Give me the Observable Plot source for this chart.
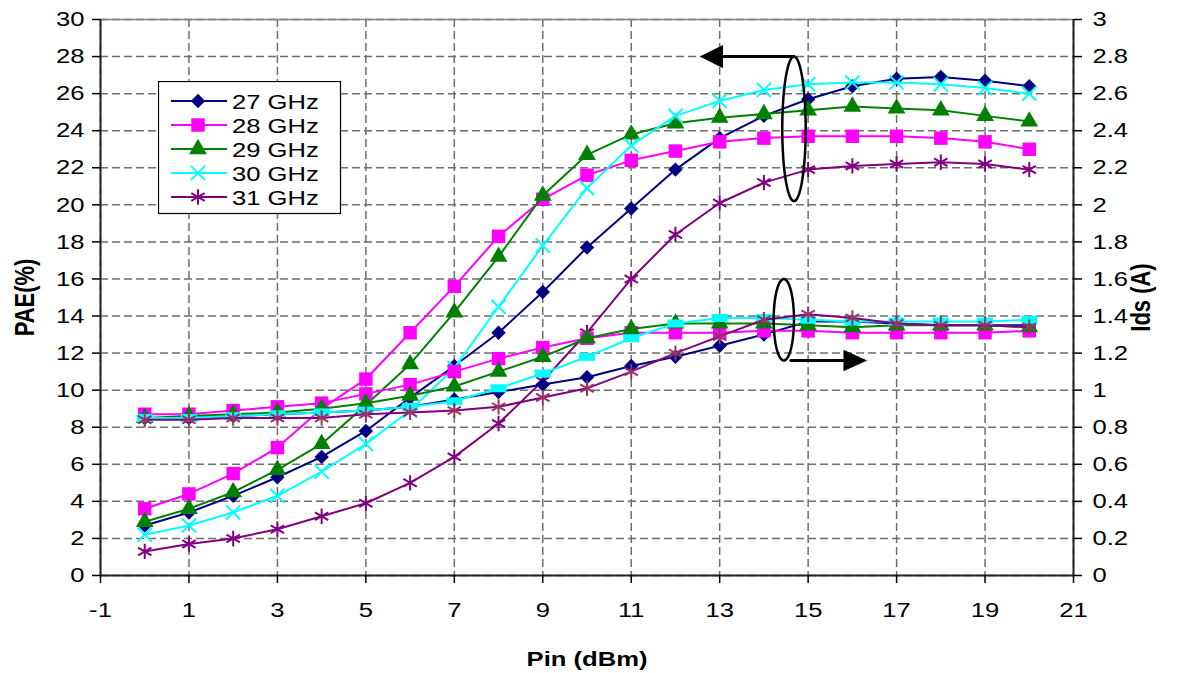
<!DOCTYPE html>
<html><head><meta charset="utf-8">
<script src="https://cdn.jsdelivr.net/npm/d3@7"></script>
<script src="https://cdn.jsdelivr.net/npm/@observablehq/plot@0.6"></script>
<style>
body{margin:0;background:#fff;}
#wrap{position:relative;width:1177px;height:673px;font-family:'Liberation Sans',Arial,sans-serif;}
#legend{position:absolute;left:158px;top:81px;}
</style></head><body><div id="wrap"></div>
<script>
// ---- data ----
const pin = [0,1,2,3,4,5,6,7,8,9,10,11,12,13,14,15,16,17,18,19,20];
const series = ["27 GHz","28 GHz","29 GHz","30 GHz","31 GHz"];
// PAE (%)
const pae27 = [2.7,3.4,4.3,5.3,6.4,7.8,9.6,11.3,13.1,15.3,17.7,19.8,21.9,23.6,24.8,25.7,26.4,26.8,26.9,26.7,26.4];
const pae28 = [3.6,4.4,5.5,6.9,9.0,10.6,13.1,15.6,18.3,20.3,21.6,22.4,22.9,23.4,23.6,23.7,23.7,23.7,23.6,23.4,23.0];
const pae29 = [2.9,3.6,4.5,5.7,7.1,9.2,11.4,14.2,17.2,20.5,22.7,23.8,24.4,24.7,24.9,25.1,25.3,25.2,25.1,24.8,24.5];
const pae30 = [2.2,2.7,3.4,4.3,5.6,7.1,8.9,11.2,14.5,17.8,20.9,23.2,24.8,25.6,26.2,26.5,26.6,26.6,26.5,26.3,26.0];
const pae31 = [1.3,1.7,2.0,2.5,3.2,3.9,5.0,6.4,8.2,10.5,13.1,16.0,18.4,20.1,21.2,21.9,22.1,22.2,22.3,22.2,21.9];
// Ids (A)
const ids27 = [0.85,0.85,0.86,0.87,0.88,0.89,0.91,0.95,0.99,1.03,1.07,1.13,1.18,1.24,1.30,1.37,1.37,1.36,1.35,1.35,1.35];
const ids28 = [0.87,0.87,0.89,0.91,0.93,0.98,1.03,1.10,1.17,1.23,1.28,1.31,1.31,1.31,1.32,1.32,1.31,1.31,1.31,1.31,1.32];
const ids29 = [0.85,0.86,0.87,0.88,0.90,0.93,0.97,1.02,1.10,1.18,1.28,1.33,1.36,1.36,1.36,1.35,1.34,1.35,1.35,1.35,1.34];
const ids30 = [0.85,0.85,0.86,0.87,0.88,0.89,0.91,0.94,1.01,1.09,1.18,1.28,1.36,1.39,1.39,1.38,1.37,1.37,1.37,1.37,1.38];
const ids31 = [0.84,0.84,0.85,0.85,0.85,0.87,0.88,0.89,0.91,0.96,1.01,1.10,1.20,1.29,1.38,1.41,1.39,1.36,1.35,1.35,1.34];
// ticks
const xTicks = [-1,1,3,5,7,9,11,13,15,17,19,21];
const paeTicks = [0,2,4,6,8,10,12,14,16,18,20,22,24,26,28,30];
const idsTicks = [0,0.2,0.4,0.6,0.8,1,1.2,1.4,1.6,1.8,2,2.2,2.4,2.6,2.8,3];
// annotations (data units)
const ellCx = [14.68, 14.45], ellCy = [24.1, 13.8], ellRx = [0.265, 0.23], ellRy = [3.9, 2.2];
const arrowY = [28.0, 11.6], arrowFrom = [14.68, 14.61], arrowBase = [13.065, 15.81], arrowTip = [12.575, 16.31], arrowHalf = [0.59, 0.54];

// ---- styles ----
const paeSeries = [pae27,pae28,pae29,pae30,pae31];
const idsSeries = [ids27,ids28,ids29,ids30,ids31];
const lineColors = ["#000080","#FF00FF","#008000","#00FFFF","#800080"];
const markColorsIds = ["#000080","#FF00FF","#008000","#00FFFF","#993366"];
const rectSymbol = {draw(ctx){ ctx.moveTo(-8,-4); ctx.lineTo(8,-4); ctx.lineTo(8,4); ctx.lineTo(-8,4); ctx.closePath(); }};
const symPae = [d3.symbolDiamond2, d3.symbolSquare, d3.symbolTriangle, d3.symbolTimes, d3.symbolAsterisk];
const symIds = [d3.symbolDiamond2, d3.symbolSquare, d3.symbolTriangle, rectSymbol, d3.symbolAsterisk];
const symR = [6.5, 7.6, 6.6, 6.5, 7.3];
const filled = [true,true,true,false,false];
const filledIds = [true,true,true,true,false];

const rows = series.flatMap((s,i) => pin.map((p,j) => ({series:s, pin:p, pae:paeSeries[i][j], ids:idsSeries[i][j]})));

const marks = [];
marks.push(Plot.gridX(xTicks, {stroke:"#6e6e6e", strokeOpacity:1, strokeDasharray:"8,4", strokeWidth:1.5}));
marks.push(Plot.gridY(paeTicks, {stroke:"#6e6e6e", strokeOpacity:1, strokeDasharray:"8,4", strokeWidth:1.5}));
marks.push(Plot.ruleY([30], {stroke:"#808080", strokeWidth:1.5}));
marks.push(Plot.ruleX([-1], {stroke:"#222", strokeWidth:2}));
marks.push(Plot.ruleX([21], {stroke:"#222", strokeWidth:2}));
marks.push(Plot.ruleY([0], {stroke:"#222", strokeWidth:2}));

series.forEach((s,i) => {
  const d = rows.filter(r => r.series === s);
  marks.push(Plot.line(d, {x:"pin", y:"pae", stroke:lineColors[i], strokeWidth:2}));
  marks.push(Plot.dot(d, filled[i]
    ? {x:"pin", y:"pae", symbol:symPae[i], r:symR[i], fill:lineColors[i], stroke:"none"}
    : {x:"pin", y:"pae", symbol:symPae[i], r:symR[i], fill:"none", stroke:lineColors[i], strokeWidth:2}));
});
series.forEach((s,i) => {
  const d = rows.filter(r => r.series === s);
  marks.push(Plot.line(d, {x:"pin", y:r => r.ids*10, stroke:lineColors[i], strokeWidth:2}));
  marks.push(Plot.dot(d, filledIds[i]
    ? {x:"pin", y:r => r.ids*10, symbol:symIds[i], r:symR[i], fill:markColorsIds[i], stroke:"none"}
    : {x:"pin", y:r => r.ids*10, symbol:symIds[i], r:symR[i], fill:"none", stroke:markColorsIds[i], strokeWidth:2}));
});

// annotations
ellCx.forEach((cx,k) => {
  const pts = d3.range(0, 361, 4).map(a => [cx + ellRx[k]*Math.cos(a*Math.PI/180), ellCy[k] + ellRy[k]*Math.sin(a*Math.PI/180)]);
  marks.push(Plot.line(pts, {x:d=>d[0], y:d=>d[1], stroke:"black", strokeWidth:2.5}));
  marks.push(Plot.line([[arrowFrom[k], arrowY[k]],[arrowBase[k], arrowY[k]]], {x:d=>d[0], y:d=>d[1], stroke:"black", strokeWidth:3}));
  const head = [[arrowTip[k], arrowY[k]],[arrowBase[k], arrowY[k]+arrowHalf[k]],[arrowBase[k], arrowY[k]-arrowHalf[k]],[arrowTip[k], arrowY[k]]];
  marks.push(Plot.line(head, {x:d=>d[0], y:d=>d[1], fill:"black", stroke:"black", strokeWidth:1}));
});

// axes
marks.push(Plot.axisX(xTicks, {anchor:"bottom", tickSize:8, tickPadding:19, fontSize:21, label:null, strokeWidth:1.5, tickFormat: d => String(d)}));
marks.push(Plot.axisY(paeTicks, {anchor:"left", tickSize:8, tickPadding:8, fontSize:21, label:null, strokeWidth:1.5, tickFormat: d => String(d)}));
marks.push(Plot.axisY(idsTicks.map(v => v*10), {anchor:"right", tickSize:8, tickPadding:11, fontSize:21, label:null, strokeWidth:1.5,
  tickFormat: d => String(+(d/10).toFixed(1))}));
marks.push(Plot.text(["PAE(%)"], {text:d=>d, frameAnchor:"left", dx:-75, rotate:-90, fontSize:22, fontWeight:"bold", textAnchor:"middle", lineAnchor:"middle"}));
marks.push(Plot.text(["Ids (A)"], {text:d=>d, frameAnchor:"right", dx:68, rotate:-90, fontSize:22, fontWeight:"bold", textAnchor:"middle", lineAnchor:"middle"}));
marks.push(Plot.text(["Pin (dBm)"], {text:d=>d, frameAnchor:"bottom", dy:84, fontSize:21, fontWeight:"bold", textAnchor:"middle", lineAnchor:"middle"}));

const chart = Plot.plot({
  width:1177, height:673,
  marginLeft:100, marginRight:104, marginTop:19, marginBottom:98,
  x:{domain:[-1,21]},
  y:{domain:[0,30]},
  style:{fontFamily:"'Liberation Sans',Arial,sans-serif", fontSize:"20px", background:"white", color:"black"},
  marks
});
const wrap = document.getElementById("wrap");
wrap.appendChild(chart);

// horizontal text stretch as in the reference
const SX = 1.22, NS = "http://www.w3.org/2000/svg";
chart.querySelectorAll("text").forEach(t => {
  const anchor = getComputedStyle(t).textAnchor;
  const g = document.createElementNS(NS, "g");
  t.parentNode.insertBefore(g, t);
  g.appendChild(t);
  const b = g.getBBox();
  const ax = anchor === "end" ? b.x + b.width : anchor === "middle" ? b.x + b.width/2 : b.x;
  g.setAttribute("transform", `translate(${ax},0) scale(${SX},1) translate(${-ax},0)`);
});

// legend
const leg = d3.select(wrap).append("svg").attr("id","legend").attr("width",184).attr("height",134);
leg.append("rect").attr("x",0.5).attr("y",0.5).attr("width",182).attr("height",132).attr("fill","white").attr("stroke","black").attr("stroke-width",1.2);
series.forEach((s,i) => {
  const y = 20 + 24*i;
  leg.append("line").attr("x1",13).attr("x2",69).attr("y1",y).attr("y2",y).attr("stroke",lineColors[i]).attr("stroke-width",2);
  const p = leg.append("path").attr("d", d3.symbol(symPae[i], Math.PI*symR[i]*symR[i])()).attr("transform",`translate(40,${y})`);
  if (filled[i]) p.attr("fill",lineColors[i]); else p.attr("fill","none").attr("stroke",lineColors[i]).attr("stroke-width",2);
  leg.append("text").attr("transform",`translate(74,${y+7.5}) scale(${SX},1)`).attr("font-size",21)
     .attr("font-family","'Liberation Sans',Arial,sans-serif").text(s);
});
</script></body></html>
